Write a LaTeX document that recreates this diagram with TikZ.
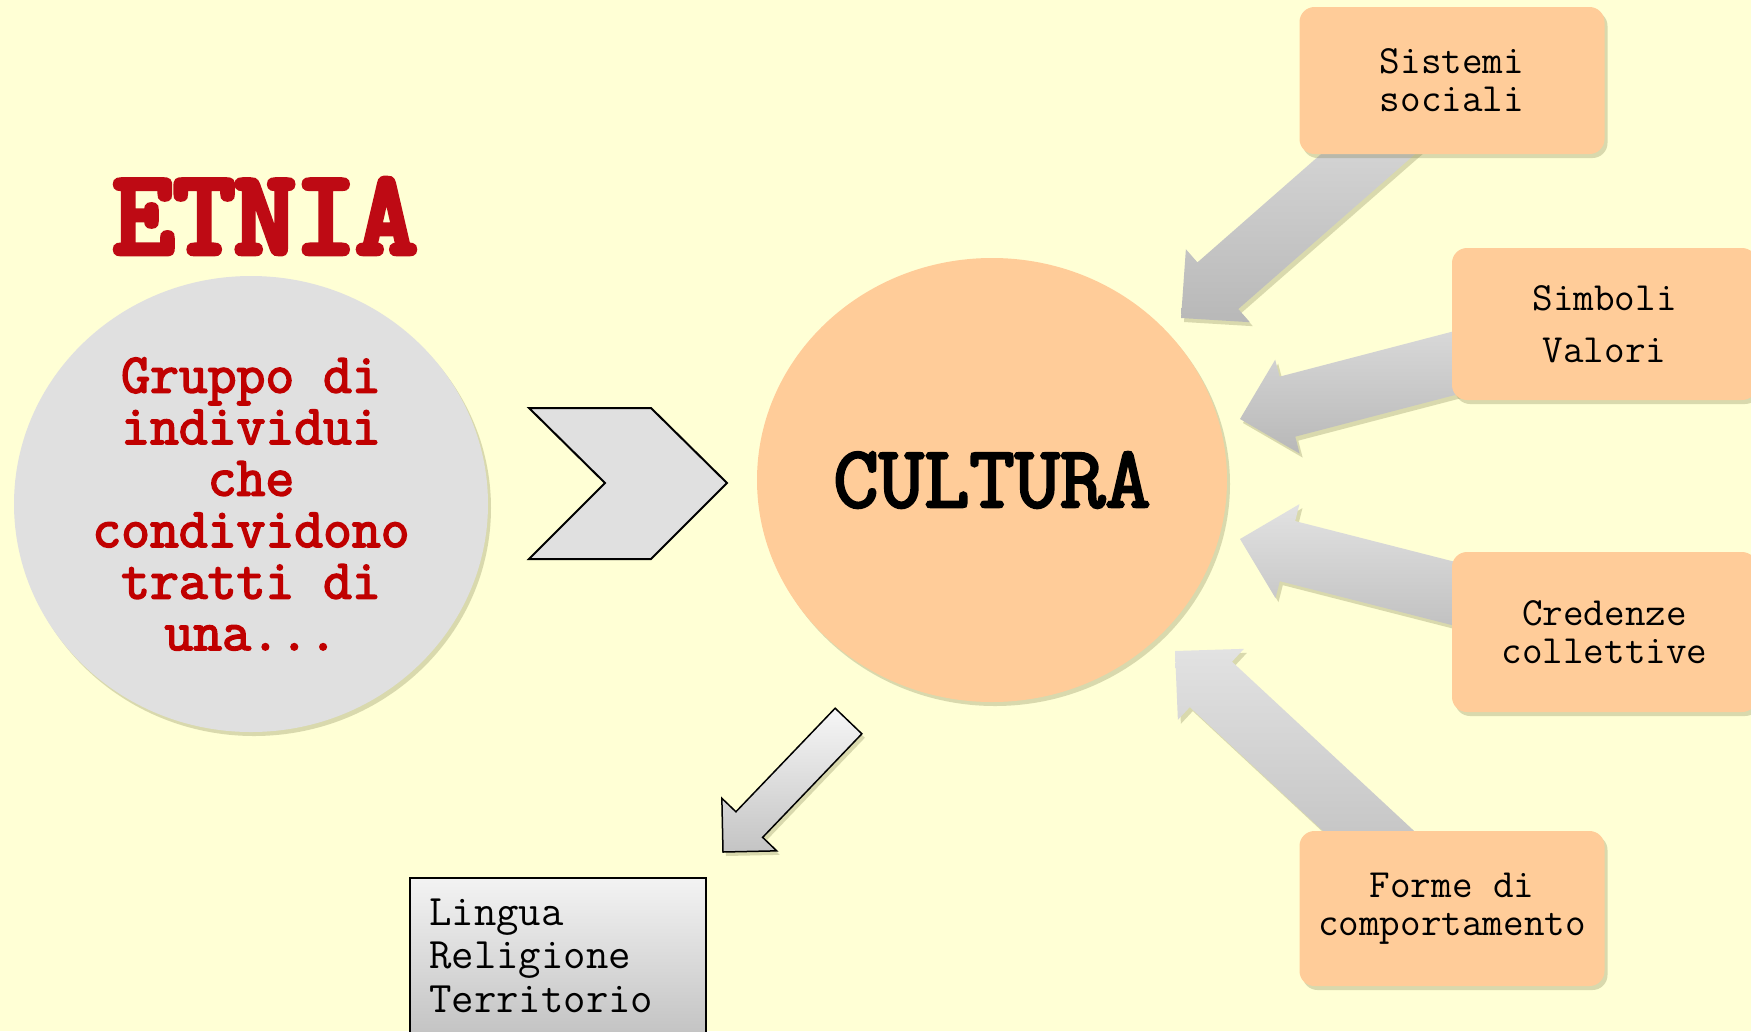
\documentclass[tikz,border=0pt]{standalone}
\usepackage{fontspec}
\newfontfamily\heavytt{Latin Modern Mono}[FakeBold=6]
\newfontfamily\boldtt{Latin Modern Mono}[FakeBold=3]
\usetikzlibrary{calc,shadows,shapes.geometric}

\definecolor{bgyellow}{RGB}{255,255,213}
\definecolor{peach}{RGB}{255,204,153}
\definecolor{lightgrey}{RGB}{224,224,224}
\definecolor{etniared}{RGB}{190,10,20}
\definecolor{circred}{RGB}{192,0,0}
\definecolor{shadowolive}{RGB}{120,120,70}

\pgfdeclarelayer{back}
\pgfsetlayers{back,main}

\tikzset{
  fuzzy/.style={drop shadow={shadow xshift=3pt,shadow yshift=-4pt,fill=shadowolive,opacity=0.28}},
  itembox/.style={rectangle,rounded corners=15pt,fill=peach,fuzzy,minimum width=305pt,
    inner sep=0pt,align=center,font=\ttfamily\fontsize{40}{38}\selectfont},
  greyarrow/.style={top color={rgb,255:red,226;green,226;blue,226},
    bottom color={rgb,255:red,184;green,184;blue,184},fuzzy},
  whitearrow/.style={draw=black,line width=1.5pt,top color={rgb,255:red,246;green,246;blue,246},
    bottom color={rgb,255:red,196;green,196;blue,196},fuzzy},
  chevron/.style={draw=black,line width=2pt,fill=lightgrey,line join=miter}
}

% block arrow from #2 (tail) to #3 (tip): shaft width #4, head width #5, head length #6
\newcommand{\blockarrow}[6][]{%
  \coordinate (ba-base) at ($(#3)!#6!(#2)$);
  \path[#1] ($(#2)!#4/2!90:(#3)$) -- ($(ba-base)!#4/2!90:(#3)$)
    -- ($(ba-base)!#5/2!90:(#3)$) -- (#3)
    -- ($(ba-base)!#5/2!-90:(#3)$) -- ($(ba-base)!#4/2!-90:(#3)$)
    -- ($(#2)!#4/2!-90:(#3)$) -- cycle;
}

\begin{document}
\begin{tikzpicture}[x=1pt,y=-1pt]
  \begin{pgfonlayer}{back}
    \fill[bgyellow] (0,0) rectangle (1751,1031);
  \end{pgfonlayer}
  \useasboundingbox (0,0) rectangle (1751,1031);
  \clip (0,0) rectangle (1751,1031);

  % title
  \node[text=etniared,font=\heavytt\fontsize{118}{118}\selectfont] (etnia) at (265,216) {ETNIA};

  % left circle
  \node[ellipse,fill=lightgrey,fuzzy,minimum width=474pt,minimum height=456pt,inner sep=0pt,
    align=center,text=circred,font=\boldtt\fontsize{56}{51.5}\selectfont]
    (gruppo) at (251,504) {Gruppo di\\individui\\che\\condividono\\tratti di\\una...};

  % chevron between the circles
  \draw[chevron] (529,408) -- (651,408) -- (727,483) -- (651,559) -- (529,559) -- (605,483) -- cycle;

  % central circle
  \node[ellipse,fill=peach,fuzzy,minimum width=470pt,minimum height=444pt,inner sep=0pt,
    font=\boldtt\fontsize{88}{88}\selectfont] (cultura) at (992,480) {CULTURA};

  % the four boxes on the right
  \node[itembox,minimum height=147pt] (sistemi) at (1452,80.5) {Sistemi\\sociali};
  \node[itembox,minimum height=152pt,font=\ttfamily\fontsize{40}{52}\selectfont] (simboli) at (1604.5,324) {Simboli\\Valori};
  \node[itembox,minimum height=160pt] (credenze) at (1604.5,632) {Credenze\\collettive};
  \node[itembox,minimum height=155pt] (forme) at (1452,908.5) {Forme di\\comportamento};

  % tips of the grey arrows
  \coordinate (tipsis) at (1181,318);
  \coordinate (tipsim) at (1240,419);
  \coordinate (tipcre) at (1240,539);
  \coordinate (tipfor) at (1175,651);
  \begin{pgfonlayer}{back}
    \foreach \from/\to in {sistemi/tipsis,simboli/tipsim,credenze/tipcre,forme/tipfor}
      \blockarrow[greyarrow]{\from}{\to}{62pt}{97pt}{49pt};
  \end{pgfonlayer}

  % arrow down to the grey box
  \coordinate (lowtail) at (848.5,721);
  \coordinate (lowtip) at (723,852);
  \blockarrow[whitearrow]{lowtail}{lowtip}{37pt}{76pt}{38pt};

  % grey box
  \node[draw=black,line width=2pt,rectangle,anchor=north west,minimum width=296pt,minimum height=190pt,
    top color={rgb,255:red,243;green,243;blue,243},bottom color={rgb,255:red,185;green,185;blue,185}]
    (lingua) at (409,877) {};
  \node[anchor=base west,align=left,inner sep=0pt,font=\ttfamily\fontsize{43.5}{43.5}\selectfont]
    (linguatext) at (429,1012) {Lingua\\Religione\\Territorio};
\end{tikzpicture}
\end{document}
